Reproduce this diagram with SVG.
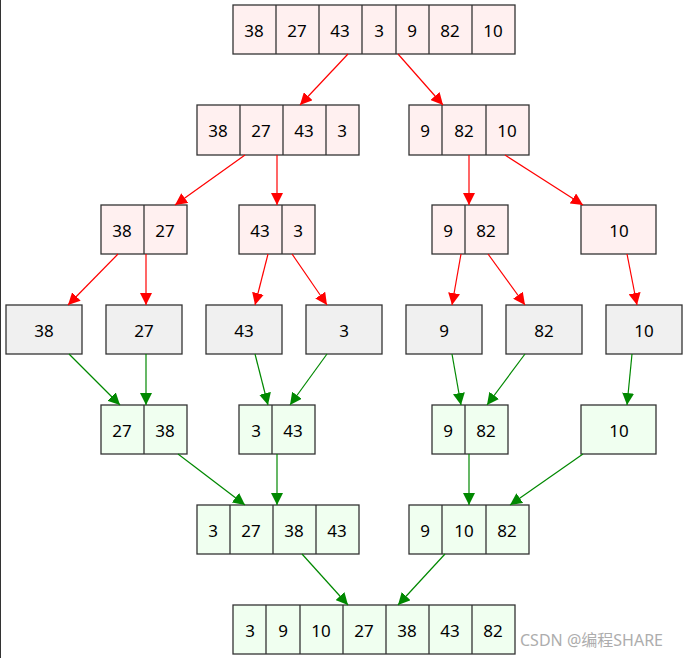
<svg xmlns="http://www.w3.org/2000/svg" width="685" height="658" viewBox="0 0 685 658">
<defs>
<marker id="ar" viewBox="0 0 10 10" refX="10" refY="5" markerWidth="12" markerHeight="12" markerUnits="userSpaceOnUse" orient="auto"><path d="M0,0L10,5L0,10z" fill="#f00"/></marker>
<marker id="ag" viewBox="0 0 10 10" refX="10" refY="5" markerWidth="12" markerHeight="12" markerUnits="userSpaceOnUse" orient="auto"><path d="M0,0L10,5L0,10z" fill="#080"/></marker>
<style>
rect{stroke:#333;stroke-width:1.3}
.p rect{fill:#fff0f0}.g rect{fill:#f0fff0}.q rect{fill:#f0f0f0}
line.d{stroke:#333;stroke-width:1.3}
text{font-family:"Noto Sans","DejaVu Sans",sans-serif;font-size:17px;text-anchor:middle;dominant-baseline:central;fill:#000}
.r{stroke:#f00;stroke-width:1.2;marker-end:url(#ar)}
.gr{stroke:#080;stroke-width:1.2;marker-end:url(#ag)}
</style>
</defs>
<rect x="-1" y="-1" width="2" height="660" style="fill:#333;stroke:none"/>
<g id="n0" class="p"><rect x="233" y="5" width="282" height="49"/><line class="d" x1="276" y1="5" x2="276" y2="54"/><line class="d" x1="319" y1="5" x2="319" y2="54"/><line class="d" x1="362" y1="5" x2="362" y2="54"/><line class="d" x1="396" y1="5" x2="396" y2="54"/><line class="d" x1="429" y1="5" x2="429" y2="54"/><line class="d" x1="472" y1="5" x2="472" y2="54"/>
<text x="254" y="30">38</text><text x="297" y="30">27</text><text x="340" y="30">43</text><text x="379" y="30">3</text><text x="412" y="30">9</text><text x="450" y="30">82</text><text x="493" y="30">10</text></g>
<g id="n1" class="p"><rect x="197" y="105" width="162" height="50"/><line class="d" x1="240" y1="105" x2="240" y2="155"/><line class="d" x1="283" y1="105" x2="283" y2="155"/><line class="d" x1="326" y1="105" x2="326" y2="155"/>
<text x="218" y="130">38</text><text x="261" y="130">27</text><text x="304" y="130">43</text><text x="342" y="130">3</text></g>
<g id="n2" class="p"><rect x="409" y="105" width="120" height="50"/><line class="d" x1="442" y1="105" x2="442" y2="155"/><line class="d" x1="486" y1="105" x2="486" y2="155"/>
<text x="425" y="130">9</text><text x="464" y="130">82</text><text x="507" y="130">10</text></g>
<g id="n3" class="p"><rect x="101" y="205" width="86" height="49"/><line class="d" x1="144" y1="205" x2="144" y2="254"/><text x="122" y="230">38</text><text x="165" y="230">27</text></g>
<g id="n4" class="p"><rect x="239" y="205" width="76" height="49"/><line class="d" x1="282" y1="205" x2="282" y2="254"/><text x="260" y="230">43</text><text x="298" y="230">3</text></g>
<g id="n5" class="p"><rect x="432" y="205" width="76" height="49"/><line class="d" x1="465" y1="205" x2="465" y2="254"/><text x="448" y="230">9</text><text x="486" y="230">82</text></g>
<g id="n6" class="p"><rect x="581" y="205" width="75" height="49"/><text x="619" y="230">10</text></g>
<g id="n7" class="q"><rect x="6" y="305" width="76" height="49"/><text x="44" y="330">38</text></g>
<g id="n8" class="q"><rect x="106" y="305" width="76" height="49"/><text x="144" y="330">27</text></g>
<g id="n9" class="q"><rect x="206" y="305" width="76" height="49"/><text x="244" y="330">43</text></g>
<g id="n10" class="q"><rect x="306" y="305" width="76" height="49"/><text x="344" y="330">3</text></g>
<g id="n11" class="q"><rect x="406" y="305" width="76" height="49"/><text x="444" y="330">9</text></g>
<g id="n12" class="q"><rect x="506" y="305" width="76" height="49"/><text x="544" y="330">82</text></g>
<g id="n13" class="q"><rect x="606" y="305" width="76" height="49"/><text x="644" y="330">10</text></g>
<g id="n14" class="g"><rect x="101" y="405" width="86" height="49"/><line class="d" x1="144" y1="405" x2="144" y2="454"/><text x="122" y="430">27</text><text x="165" y="430">38</text></g>
<g id="n15" class="g"><rect x="239" y="405" width="76" height="49"/><line class="d" x1="272" y1="405" x2="272" y2="454"/><text x="256" y="430">3</text><text x="293" y="430">43</text></g>
<g id="n16" class="g"><rect x="432" y="405" width="76" height="49"/><line class="d" x1="465" y1="405" x2="465" y2="454"/><text x="448" y="430">9</text><text x="486" y="430">82</text></g>
<g id="n17" class="g"><rect x="581" y="405" width="75" height="49"/><text x="619" y="430">10</text></g>
<g id="n18" class="g"><rect x="197" y="505" width="162" height="49"/><line class="d" x1="230" y1="505" x2="230" y2="554"/><line class="d" x1="273" y1="505" x2="273" y2="554"/><line class="d" x1="316" y1="505" x2="316" y2="554"/>
<text x="213" y="530">3</text><text x="251" y="530">27</text><text x="294" y="530">38</text><text x="337" y="530">43</text></g>
<g id="n19" class="g"><rect x="409" y="505" width="120" height="49"/><line class="d" x1="442" y1="505" x2="442" y2="554"/><line class="d" x1="486" y1="505" x2="486" y2="554"/>
<text x="425" y="530">9</text><text x="464" y="530">10</text><text x="507" y="530">82</text></g>
<g id="n20" class="g"><rect x="233" y="605" width="282" height="49"/><line class="d" x1="266" y1="605" x2="266" y2="654"/><line class="d" x1="300" y1="605" x2="300" y2="654"/><line class="d" x1="343" y1="605" x2="343" y2="654"/><line class="d" x1="386" y1="605" x2="386" y2="654"/><line class="d" x1="429" y1="605" x2="429" y2="654"/><line class="d" x1="472" y1="605" x2="472" y2="654"/>
<text x="250" y="630">3</text><text x="283" y="630">9</text><text x="321" y="630">10</text><text x="364" y="630">27</text><text x="407" y="630">38</text><text x="450" y="630">43</text><text x="493" y="630">82</text></g>
<g id="connectors">
<line class="r" x1="348" y1="54" x2="300" y2="105"/><line class="r" x1="398" y1="54" x2="443" y2="105"/>
<line class="r" x1="245" y1="155" x2="175" y2="205"/><line class="r" x1="277" y1="155" x2="277" y2="205"/>
<line class="r" x1="469" y1="155" x2="469" y2="205"/><line class="r" x1="505" y1="155" x2="583" y2="205"/>
<line class="r" x1="118" y1="254" x2="68" y2="305"/><line class="r" x1="146" y1="254" x2="146" y2="305"/>
<line class="r" x1="268" y1="254" x2="255" y2="305"/><line class="r" x1="292" y1="254" x2="327" y2="305"/>
<line class="r" x1="461" y1="254" x2="452" y2="305"/><line class="r" x1="488" y1="254" x2="525" y2="305"/>
<line class="r" x1="627" y1="254" x2="637" y2="305"/>
<line class="gr" x1="69" y1="354" x2="120" y2="405"/><line class="gr" x1="146" y1="354" x2="146" y2="405"/>
<line class="gr" x1="255" y1="354" x2="268" y2="405"/><line class="gr" x1="327" y1="354" x2="290" y2="405"/>
<line class="gr" x1="452" y1="354" x2="461" y2="405"/><line class="gr" x1="525" y1="354" x2="487" y2="405"/>
<line class="gr" x1="632" y1="354" x2="627" y2="405"/>
<line class="gr" x1="178" y1="454" x2="245" y2="505"/><line class="gr" x1="277" y1="454" x2="277" y2="505"/>
<line class="gr" x1="469" y1="454" x2="469" y2="505"/><line class="gr" x1="583" y1="454" x2="510" y2="505"/>
<line class="gr" x1="302" y1="554" x2="348" y2="605"/><line class="gr" x1="445" y1="554" x2="398" y2="605"/>
</g>
<text x="520" y="640" style="font-family:'Noto Sans','Noto Sans CJK SC',sans-serif;font-size:16px;text-anchor:start;fill:#999;opacity:0.8">CSDN @编程SHARE</text>
</svg>
